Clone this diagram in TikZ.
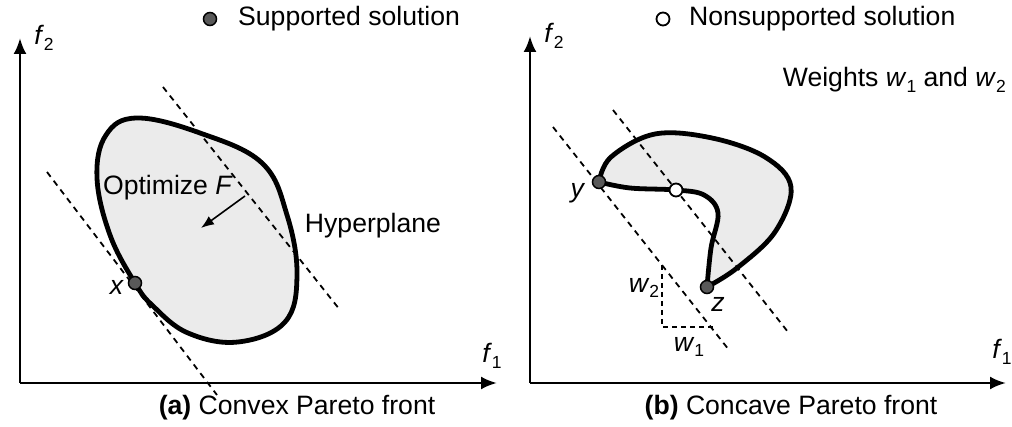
\documentclass[tikz,border=0pt]{standalone}
\usepackage{fontspec}
\setmainfont{Liberation Sans}
\usetikzlibrary{arrows.meta}
\newcommand\mysub[1]{\raisebox{-0.4ex}{\fontsize{17.5}{17.5}\selectfont #1}}
\tikzset{
  axis/.style={line width=2.6pt,-{Latex[length=16pt,width=13pt]}},
  hyper/.style={line width=1.8pt,dash pattern=on 6pt off 5pt},
  blobfill/.style={fill=black!8},
  blob/.style={line width=4.8pt,line join=round},
  lbl/.style={inner sep=0pt,font=\fontsize{26.6}{30}\selectfont},
  sdot/.style={circle,draw=black,line width=1.5pt,fill=black!65,minimum size=13pt,inner sep=0pt},
  ndot/.style={circle,draw=black,line width=1.8pt,fill=white,minimum size=13pt,inner sep=0pt},
  tri/.style={line width=1.8pt,dash pattern=on 5pt off 4pt},
}
\begin{document}
\begin{tikzpicture}[x=1pt,y=-1pt]
\useasboundingbox (0,0) rectangle (1012,427);
% ---------- panel (a) ----------
\coordinate (ao) at (20,383);
\coordinate (ay) at (20,38);
\coordinate (ax) at (497,383);
\draw[axis] (ao) -- (ay);
\draw[axis] (ao) -- (ax);
\node[lbl] (af2) at (44,38) {\textit{f}\mysub{2}};
\node[lbl] (af1) at (492,356) {\textit{f}\mysub{1}};
\node[sdot] (legS) at (210,19) {};
\node[lbl,anchor=west] (legStxt) at (238,19) {Supported solution};
\def\blobA{plot[smooth cycle,tension=0.65] coordinates {
 (135,283) (110,235) (97,178) (106,135) (137,118) (200,133) (262,163)
 (287,215) (297,275) (285,322) (238,342) (188,333) (153,306)}}
\path[blobfill] \blobA;
\coordinate (h1a) at (47,172);
\coordinate (h1b) at (217,395);
\coordinate (h2a) at (163,87);
\coordinate (h2b) at (340,310);
\draw[hyper] (h1a) -- (h1b);
\draw[hyper] (h2a) -- (h2b);
\draw[blob] \blobA;
\node[sdot] (x) at (135,283) {};
\node[lbl] (xl) at (117,287) {\textit{x}};
\node[lbl] (opt) at (168,188) {Optimize \textit{F}};
\coordinate (oa) at (245,196);
\coordinate (ob) at (201,228);
\draw[line width=1.6pt,-{Latex[length=13pt,width=10pt]}] (oa) -- (ob);
\node[lbl] (hyp) at (373,226) {Hyperplane};
\node[lbl] (capa) at (297,408) {\textbf{(a)} Convex Pareto front};
% ---------- panel (b) ----------
\coordinate (bo) at (530,383);
\coordinate (by) at (530,36);
\coordinate (bx) at (1006,383);
\draw[axis] (bo) -- (by);
\draw[axis] (bo) -- (bx);
\node[lbl] (bf2) at (554,36) {\textit{f}\mysub{2}};
\node[lbl] (bf1) at (1002,352) {\textit{f}\mysub{1}};
\node[ndot] (legN) at (663,19) {};
\node[lbl,anchor=west] (legNtxt) at (689,19) {Nonsupported solution};
\node[lbl,anchor=east] (wts) at (1006,80) {Weights \textit{w}\mysub{1} and \textit{w}\mysub{2}};
\def\blobB{(599,182) plot[smooth,tension=0.6] coordinates {
 (599,182) (611,157) (655,134) (712,138) (765,157) (791,187) (775,232) (737,268) (707,287)}
 -- plot[smooth,tension=0.6] coordinates {
 (707,287) (711,248) (718,213) (704,195) (676,190) (630,188) (599,182)} -- cycle}
\path[blobfill] \blobB;
\coordinate (g1a) at (553,127);
\coordinate (g1b) at (729,350);
\coordinate (g2a) at (613,110);
\coordinate (g2b) at (788,332);
\draw[hyper] (g1a) -- (g1b);
\draw[hyper] (g2a) -- (g2b);
\draw[blob] \blobB;
\coordinate (t1) at (662,265);
\coordinate (t2) at (662,327);
\coordinate (t3) at (713,327);
\draw[tri] (t1) -- (t2) -- (t3);
\node[sdot] (y) at (599,182) {};
\node[ndot] (ns) at (676,190) {};
\node[sdot] (z) at (707,287) {};
\node[lbl] (yl) at (578,193) {\textit{y}};
\node[lbl] (zl) at (718,304) {\textit{z}};
\node[lbl] (w2l) at (644,288) {\textit{w}\mysub{2}};
\node[lbl] (w1l) at (689,347) {\textit{w}\mysub{1}};
\node[lbl] (capb) at (791,408) {\textbf{(b)} Concave Pareto front};
\end{tikzpicture}
\end{document}
